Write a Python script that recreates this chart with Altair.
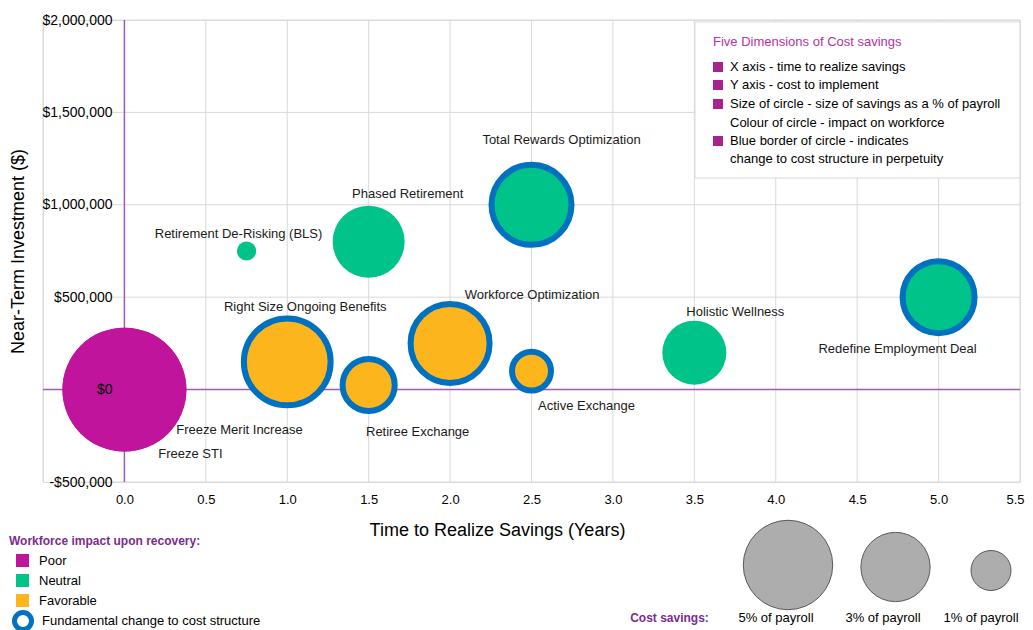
import altair as alt
import pandas as pd

# ---------------- data ----------------
names = ["Freeze STI", "Freeze Merit Increase", "Retirement De-Risking (BLS)",
         "Phased Retirement", "Total Rewards Optimization", "Right Size Ongoing Benefits",
         "Retiree Exchange", "Workforce Optimization", "Active Exchange",
         "Holistic Wellness", "Redefine Employment Deal"]
years = [0.0, 0.0, 0.75, 1.5, 2.5, 1.0, 1.5, 2.0, 2.5, 3.5, 5.0]
invest = [0, 0, 750000, 800000, 1000000, 150000, 25000, 250000, 100000, 200000, 500000]
savings = [9.6, 9.6, 0.23, 3.24, 4.0, 4.7, 1.7, 3.9, 0.95, 2.56, 3.24]
impact = ["Poor", "Poor", "Neutral", "Neutral", "Neutral", "Favorable", "Favorable",
          "Favorable", "Favorable", "Neutral", "Neutral"]
structural = [False, False, False, False, True, True, True, True, True, False, True]

impact_levels = ["Poor", "Neutral", "Favorable"]
border_label = "Fundamental change to cost structure"

x_ticks = [0.0, 0.5, 1.0, 1.5, 2.0, 2.5, 3.0, 3.5, 4.0, 4.5, 5.0, 5.5]
y_ticks = [-500000, 0, 500000, 1000000, 1500000, 2000000]
v_grid = [-0.5, 0.5, 1.0, 1.5, 2.0, 2.5, 3.0, 3.5, 4.0, 4.5, 5.0, 5.5]
h_grid = [-500000, 500000, 1000000, 1500000, 2000000]

legend_pcts = [5, 3, 1]
legend_pct_labels = ["5% of payroll", "3% of payroll", "1% of payroll"]

box_title = "Five Dimensions of Cost savings"
box_lines = ["X axis - time to realize savings", "Y axis - cost to implement",
             "Size of circle - size of savings as a % of payroll",
             "Colour of circle - impact on workforce",
             "Blue border of circle - indicates", "change to cost structure in perpetuity"]
box_square = [True, True, True, False, True, False]

# ---------------- styles ----------------
F = "Liberation Sans"
MAGENTA = "#C0149C"
GREEN = "#00C389"
ORANGE = "#FDB51E"
BLUE = "#0071C0"
GRID = "#D9D9D9"
AXISLINE = "#A05AB4"
PURPLE = "#7A2C8E"
BOXPINK = "#B5339F"
BOXSQ = "#A8228E"

# label offsets (pixels from bubble centre)
label_offsets = {
    "Freeze STI": (66, 64),
    "Freeze Merit Increase": (115, 40),
    "Retirement De-Risking (BLS)": (-8, -17),
    "Phased Retirement": (39, -48),
    "Total Rewards Optimization": (30, -65),
    "Right Size Ongoing Benefits": (18, -55),
    "Retiree Exchange": (49, 47),
    "Workforce Optimization": (82, -48),
    "Active Exchange": (55, 35),
    "Holistic Wellness": (41, -41),
    "Redefine Employment Deal": (-41, 52),
}

df = pd.DataFrame({
    "name": names, "years": years, "invest": invest, "savings": savings,
    "impact": impact, "structural": structural,
})
df["border"] = [border_label if s else "" for s in structural]

xscale = alt.Scale(domain=[-0.5, 5.5], nice=False, zero=False)
yscale = alt.Scale(domain=[-500000, 2000000], nice=False, zero=False)
size_scale = alt.Scale(type="linear", domain=[0, 10], range=[0, 16000])
color_scale = alt.Scale(domain=impact_levels, range=[MAGENTA, GREEN, ORANGE])

xaxis = alt.Axis(title="Time to Realize Savings (Years)", values=x_ticks, format=".1f",
                 grid=False, domain=False, ticks=False, tickSize=0, labelPadding=11,
                 labelFont=F, labelFontSize=13, labelColor="black",
                 labelFlush=True, labelFlushOffset=4, labelOverlap=False,
                 titleFont=F, titleFontSize=18, titleFontWeight="normal", titleColor="black",
                 titleX=454, titleY=48, titleBaseline="middle", titleAlign="center")
yaxis = alt.Axis(title="Near-Term Investment ($)", values=y_ticks,
                 labelExpr="(datum.value < 0 ? '-' : '') + '$' + format(abs(datum.value), ',')",
                 grid=False, domain=False, ticks=False, tickSize=0, labelPadding=12.5,
                 offset=-81.5, zindex=1, labelFont=F, labelFontSize=14, labelColor="black",
                 labelOverlap=False, labelFlush=False,
                 titleFont=F, titleFontSize=18, titleFontWeight="normal", titleColor="black",
                 titleX=-106.5, titleY=231, titleBaseline="middle", titleAlign="center",
                 titleAngle=270)


def X(field):
    return alt.X(field, type="quantitative", scale=xscale, axis=xaxis)


def Y(field):
    return alt.Y(field, type="quantitative", scale=yscale, axis=yaxis)


OX, OY = 43, 20  # plot origin on page (for annotation placement)


def note(text, px, py, **kw):
    base = dict(font=F, fontSize=13, color="black", align="left", baseline="middle")
    base.update(kw)
    return alt.Chart(pd.DataFrame({"t": [text]})).mark_text(**base).encode(
        x=alt.value(px - OX), y=alt.value(py - OY), text="t:N")


layers = []

# grid lines
layers.append(alt.Chart(pd.DataFrame({"v": v_grid})).mark_rule(color=GRID, strokeWidth=1).encode(
    x=X("v"), y=alt.datum(-500000), y2=alt.datum(2000000)))
layers.append(alt.Chart(pd.DataFrame({"v": h_grid})).mark_rule(color=GRID, strokeWidth=1).encode(
    y=Y("v"), x=alt.datum(-0.075), x2=alt.datum(5.5)))

# purple zero lines
layers.append(alt.Chart(pd.DataFrame({"v": [0.0]})).mark_rule(color=AXISLINE, strokeWidth=1.5).encode(
    x=X("v"), y=alt.datum(-500000), y2=alt.datum(2000000)))
layers.append(alt.Chart(pd.DataFrame({"v": [0]})).mark_rule(color=AXISLINE, strokeWidth=1.5).encode(
    y=Y("v"), x=alt.datum(-0.5), x2=alt.datum(5.5)))

color_legend = alt.Legend(title="Workforce impact upon recovery:", orient="none",
                          legendX=-34, legendY=516, padding=0,
                          titleFont=F, titleFontSize=12, titleFontWeight="bold",
                          titleColor=PURPLE, titlePadding=6, titleLimit=400,
                          labelFont=F, labelFontSize=13, labelColor="black", labelLimit=400,
                          symbolType="square", symbolSize=169, symbolOffset=7,
                          symbolStrokeWidth=0, labelOffset=10, rowPadding=6)

stroke_legend = alt.Legend(title=None, orient="none", legendX=-31, legendY=590, padding=0,
                           labelFont=F, labelFontSize=13, labelColor="black", labelLimit=400,
                           symbolType="circle", symbolSize=289, symbolStrokeWidth=5,
                           symbolFillColor="white", labelOffset=8)

# bubbles without border
layers.append(alt.Chart(df).transform_filter("!datum.structural").mark_circle(opacity=1).encode(
    x=X("years"), y=Y("invest"),
    color=alt.Color("impact:N", scale=color_scale, legend=color_legend),
    size=alt.Size("savings:Q", scale=size_scale, legend=None)))

# bubbles with blue border
layers.append(alt.Chart(df).transform_filter("datum.structural").mark_circle(
    opacity=1, strokeWidth=6, strokeOpacity=1).encode(
    x=X("years"), y=Y("invest"),
    color=alt.Color("impact:N", scale=color_scale, legend=color_legend),
    stroke=alt.Stroke("border:N", scale=alt.Scale(domain=[border_label], range=[BLUE]),
                      legend=stroke_legend),
    size=alt.Size("savings:Q", scale=size_scale, legend=None)))

# bubble labels
for n in names:
    dx, dy = label_offsets[n]
    layers.append(alt.Chart(df).transform_filter(alt.datum.name == n).mark_text(
        font=F, fontSize=13, color="#1a1a1a", align="center", baseline="middle",
        dx=dx, dy=dy).encode(x=X("years"), y=Y("invest"), text="name:N"))

# "Five Dimensions" box
layers.append(alt.Chart(pd.DataFrame({"a": [1]})).mark_rect(
    fill="white", stroke=GRID, strokeWidth=1).encode(
    x=alt.value(695 - OX), x2=alt.value(1020 - OX), y=alt.value(22 - OY), y2=alt.value(178 - OY)))
layers.append(note(box_title, 713, 42, color=BOXPINK))
row_y = [67, 85, 104, 123, 141, 159]
for line, sq, ry in zip(box_lines, box_square, row_y):
    layers.append(note(line, 730, ry))
    if sq:
        layers.append(alt.Chart(pd.DataFrame({"a": [1]})).mark_square(
            size=100, color=BOXSQ, opacity=1).encode(x=alt.value(718 - OX), y=alt.value(ry - OY)))

# size legend (cost savings)
legend_pos = [(788, 565), (895.5, 567), (991, 570.5)]
label_pos = [776, 883, 981]
for p, lab, (cx, cy), lx in zip(legend_pcts, legend_pct_labels, legend_pos, label_pos):
    layers.append(alt.Chart(pd.DataFrame({"pct": [p]})).mark_circle(
        fill="#ADADAD", stroke="#595959", strokeWidth=1, opacity=1).encode(
        x=alt.value(cx - OX), y=alt.value(cy - OY),
        size=alt.Size("pct:Q", scale=size_scale, legend=None)))
    layers.append(note(lab, lx, 618, align="center"))
layers.append(note("Cost savings:", 669.5, 618, align="center", fontWeight="bold",
                   fontSize=12, color=PURPLE))

chart = alt.layer(*layers).properties(
    width=977, height=462,
    autosize=alt.AutoSizeParams(type="none"),
    padding={"left": 35, "top": 12, "right": 5, "bottom": 148},
).configure_view(stroke=None).configure(background="white")

chart.save("out.html", embed_options={"renderer": "svg", "actions": False})
